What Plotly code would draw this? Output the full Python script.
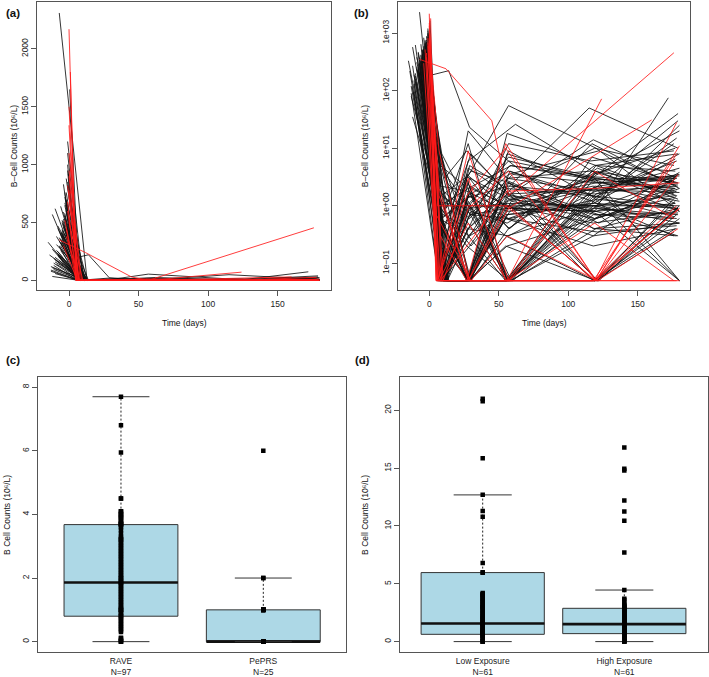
import plotly.graph_objects as go

# ---------------- Data: spaghetti panels (a) & (b) ----------------
# RAVE patients (black): days and B-cell counts (10^6/L); 0.05 = below detection
rave_days = [
    [-7, 13, 28, 56, 120, 178], [0.5, 7, 27, 55, 117, 176], [-0.5, 8, 29, 57, 119, 179],
    [-4, 6, 28, 56, 118, 180], [-10, 9, 30, 58, 120, 177], [-6, 10, 27, 56, 116, 178],
    [-12, 8, 28, 59, 121, 176], [-15, 7, 29, 55, 119, 179], [-14, 11, 28, 57, 122, 180],
    [-12, 7, 30, 56, 118, 178], [-1, 14, 29, 57, 118, 177], [-3, 10, 27, 57, 120, 180],
    [-5, 9, 28, 56, 115, 179], [-8, 8, 30, 60, 118, 176], [-2, 6, 29, 56, 121, 172],
    [-9, 10, 28, 57, 119, 180], [-6, 9, 28, 57, 117, 180], [-11, 8, 28, 56, 120, 176],
    [-4, 12, 30, 58, 121, 178], [-7, 13, 29, 57, 119, 179], [-3, 11, 27, 55, 118, 177],
    [-5, 7, 28, 59, 120, 180], [-8, 10, 27, 56, 122, 178], [-2, 6, 28, 56, 119, 179],
    [-10, 9, 29, 58, 118, 180], [-1, 8, 28, 55, 120, 177], [-6, 11, 30, 57, 116, 176],
    [-9, 14, 29, 56, 119, 179], [-3, 7, 28, 62, 121, 180], [-4, 9, 27, 57, 118, 178],
    [-13, 12, 28, 56, 120, 180], [-2, 8, 29, 58, 117, 176], [-7, 6, 28, 55, 119, 179],
    [-5, 10, 30, 56, 121, 177], [-8, 13, 27, 57, 118, 180], [-1, 7, 28, 56, 120, 178],
    [-11, 9, 29, 59, 119, 176], [-6, 11, 28, 56, 122, 180], [-3, 8, 27, 58, 117, 179],
    [-9, 12, 28, 55, 120, 178], [-4, 6, 30, 57, 119, 177], [-7, 10, 28, 56, 118, 180],
    [-2, 9, 29, 60, 121, 176], [-10, 7, 27, 56, 120, 179], [-5, 13, 28, 57, 119, 180],
    [-12, 8, 29, 55, 118, 178], [-1, 10, 28, 58, 120, 177], [-6, 7, 30, 56, 122, 180],
    [-8, 12, 27, 57, 117, 179], [-3, 9, 28, 59, 119, 176], [-9, 11, 29, 56, 121, 178],
    [-4, 8, 28, 57, 120, 180], [-7, 6, 27, 55, 118, 177], [-2, 14, 28, 56, 119, 179],
    [-11, 9, 30, 58, 117, 180], [-5, 10, 28, 56, 120, 176], [-13, 7, 27, 57, 121, 178],
    [-3, 12, 29, 55, 118, 179], [-8, 8, 28, 56, 119, 177], [-6, 11, 28, 58, 120, 180],
    [-1, 6, 29, 56, 116, 178], [-10, 13, 27, 57, 122, 176], [-4, 9, 28, 55, 119, 180],
    [-7, 10, 30, 57, 121, 179], [-2, 7, 28, 56, 118, 150], [-12, 12, 29, 59, 120, 178],
    [-5, 8, 28, 57, 119, 179], [-9, 10, 29, 56, 120, 177], [-3, 7, 27, 58, 118, 180],
    [-7, 12, 28, 55, 121, 178], [-1, 9, 30, 57, 117, 176], [-11, 6, 28, 56, 120, 179],
    [-4, 11, 29, 59, 119, 180], [-6, 8, 27, 56, 118, 177], [-2, 13, 28, 57, 122, 178],
    [-8, 9, 29, 55, 120, 176], [-13, 7, 28, 56, 119, 180], [-5, 10, 30, 58, 121, 179],
    [-3, 6, 28, 57, 118, 177], [-10, 12, 27, 56, 120, 178], [-6, 8, 29, 55, 119, 180],
    [-1, 11, 28, 57, 117, 176],
]
rave_vals = [
    [2310, 0.05, 0.3, 1.2, 2.5, 3.0], [1650, 0.8, 0.05, 2.0, 1.5, 1.0], [920, 0.05, 3.0, 0.4, 5.0, 8.0],
    [830, 2.0, 0.5, 0.05, 1.0, 0.5], [620, 0.3, 8.0, 1.5, 0.8, 2.0], [640, 0.05, 0.05, 3.0, 4.0, 2.5],
    [570, 1.0, 2.0, 5.0, 3.0, 1.8], [330, 0.6, 0.3, 0.7, 1.1, 0.9], [220, 0.05, 1.5, 0.6, 2.2, 3.5],
    [35, 1.0, 0.2, 1.0, 0.5, 0.8], [180, 222, 23, 6.0, 3.0, 2.0], [400, 0.05, 3.0, 55, 10, 0.8],
    [500, 0.05, 0.4, 2.0, 50, 10], [450, 0.2, 0.05, 0.05, 0.7, 0.6], [700, 1.2, 0.9, 1.1, 1.0, 75],
    [380, 4.0, 1.0, 0.05, 3.0, 0.05], [260, 0.05, 1.5, 4.0, 1.5, 0.05], [150, 0.05, 0.05, 0.05, 1.3, 12],
    [480, 0.9, 4.0, 2.5, 0.05, 1.5], [290, 0.05, 0.05, 0.9, 2.0, 30], [560, 3.0, 9.0, 1.8, 0.05, 0.4],
    [350, 1.0, 1.0, 1.0, 1.0, 1.0], [230, 0.4, 0.05, 8.0, 2.5, 3.2], [600, 0.05, 20, 3.0, 1.8, 2.2],
    [180, 0.1, 1.0, 0.05, 0.3, 0.5], [820, 5.0, 2.0, 0.05, 5.0, 4.0], [420, 0.05, 0.5, 12, 6.0, 9.0],
    [310, 1.8, 0.05, 0.3, 0.9, 0.7], [540, 0.05, 6.0, 26, 3.5, 20], [280, 0.6, 0.05, 1.5, 14, 3.0],
    [120, 0.05, 0.05, 0.05, 0.6, 2.0], [760, 9.0, 0.05, 4.0, 1.2, 0.3], [200, 0.3, 2.5, 0.05, 0.05, 0.9],
    [390, 0.05, 0.8, 0.5, 4.0, 1.1], [470, 2.5, 1.0, 6.0, 0.4, 0.5], [1000, 0.05, 0.05, 0.2, 0.6, 1.8],
    [95, 0.05, 0.2, 2.0, 10, 5.0], [330, 0.8, 12, 0.05, 0.05, 1.0], [650, 0.05, 0.05, 0.8, 3.0, 40],
    [240, 4.0, 0.3, 0.05, 1.6, 6.0], [510, 0.05, 2.0, 1.0, 0.05, 1.2], [170, 0.05, 0.05, 0.05, 0.9, 25],
    [880, 1.5, 0.6, 3.5, 2.5, 2.0], [60, 0.05, 3.5, 0.9, 0.8, 0.3], [440, 0.05, 0.05, 9.0, 1.4, 8.0],
    [270, 0.2, 0.05, 0.6, 0.2, 0.4], [1200, 0.05, 1.2, 0.05, 2.0, 3.0], [360, 6.0, 0.05, 2.5, 0.7, 0.05],
    [210, 0.05, 0.9, 0.05, 7.0, 2.5], [720, 0.4, 0.05, 1.2, 0.6, 1.4], [140, 0.05, 5.0, 2.0, 0.05, 0.7],
    [590, 0.05, 0.4, 0.3, 1.8, 4.5], [300, 2.0, 0.05, 0.05, 3.5, 10], [480, 0.05, 0.05, 1.5, 0.4, 0.9],
    [190, 0.6, 1.5, 0.4, 12, 2.0], [410, 0.05, 0.05, 18, 5.0, 1.6], [80, 1.0, 0.2, 0.05, 0.9, 0.6],
    [670, 0.05, 2.2, 1.0, 0.3, 3.5], [250, 3.0, 0.05, 0.7, 1.0, 1.5], [320, 0.05, 0.6, 5.0, 2.8, 0.8],
    [950, 0.05, 0.05, 0.05, 1.2, 15], [160, 0.2, 0.05, 2.5, 0.5, 2.8], [530, 8.0, 1.0, 0.3, 0.05, 0.6],
    [370, 0.05, 0.05, 0.4, 4.5, 1.3], [610, 0.5, 0.05, 1.0, 2.2, 0.4], [110, 0.05, 1.8, 0.05, 0.4, 0.3],
    [430, 0.6, 1.4, 2.2, 1.6, 2.4], [260, 0.05, 0.7, 0.9, 0.8, 1.1], [580, 1.4, 3.2, 1.3, 2.8, 3.3],
    [340, 0.05, 0.05, 0.6, 0.35, 0.45], [1100, 0.05, 1.1, 7.0, 3.2, 2.6], [130, 0.8, 0.4, 1.6, 0.7, 0.75],
    [460, 0.05, 0.05, 0.05, 2.2, 1.2], [300, 2.2, 1.8, 0.8, 1.1, 6.5], [690, 0.05, 0.8, 3.5, 9.0, 2.2],
    [220, 0.5, 0.05, 0.2, 0.05, 0.35], [90, 0.05, 4.5, 1.6, 1.9, 1.7], [520, 1.8, 0.7, 0.6, 1.3, 0.9],
    [760, 0.05, 0.05, 1.3, 0.9, 2.9], [200, 0.3, 2.8, 0.05, 3.8, 1.5], [410, 0.05, 0.3, 2.8, 0.6, 3.8],
    [850, 0.9, 0.05, 0.05, 1.5, 0.65],
]
# PePRS patients (red)
peprs_days = [
    [0, 5, 28, 56, 120, 178], [0, 6, 27, 57, 119, 180], [-7, 12, 45, 57, 176],
    [0, 7, 28, 56, 124], [-1, 6, 28, 57, 119, 178], [0, 8, 27, 55, 120, 180],
    [-2, 5, 29, 56, 118, 177], [0, 7, 28, 58, 119, 176], [-3, 6, 27, 55, 120, 180],
    [0, 9, 28, 57, 160], [-1, 5, 30, 56, 121, 179], [0, 6, 28, 55, 118, 178],
    [-2, 8, 27, 56, 119, 180], [0, 7, 29, 57, 105], [-4, 6, 28, 55, 120, 178],
    [1, 5, 27, 56, 119, 176], [0, 10, 28, 57, 120, 179], [-1, 7, 29, 56, 118, 180],
]
peprs_vals = [
    [2170, 0.05, 0.05, 0.05, 0.05, 0.05], [1340, 1.0, 1.0, 1.0, 0.05, 0.9], [350, 240, 30, 1.5, 455],
    [900, 0.05, 0.5, 0.05, 72], [600, 0.05, 9.0, 0.05, 0.05, 28], [1100, 0.3, 0.05, 12, 0.05, 0.9],
    [450, 0.05, 0.05, 0.05, 0.05, 6.0], [780, 2.0, 0.05, 0.05, 4.0, 0.6], [520, 0.05, 1.5, 10, 0.05, 11],
    [950, 0.05, 0.05, 0.9, 31], [680, 0.7, 0.05, 0.3, 0.05, 0.4], [1500, 0.05, 3.0, 0.05, 0.05, 1.0],
    [380, 0.05, 0.2, 1.8, 2.0, 2.5], [720, 9.0, 0.05, 0.05, 2.5], [300, 0.05, 0.05, 1.0, 0.05, 8.0],
    [1800, 0.05, 0.05, 0.05, 0.5, 0.05], [500, 0.05, 0.9, 4.0, 0.05, 3.5], [820, 1.5, 0.05, 0.05, 0.05, 0.05],
]

# ---------------- Data: box panels (c) & (d) ----------------
c_labels = ["RAVE<br>N=97", "PePRS<br>N=25"]
rave_pts = [
    0.0, 0.0, 0.02, 0.05, 0.1, 0.12, 0.4, 0.45, 0.5, 0.55,
    0.6, 0.65, 0.7, 0.75, 0.8, 0.8, 0.85, 0.9, 0.95, 1.0,
    1.0, 1.05, 1.1, 1.15, 1.2, 1.25, 1.3, 1.35, 1.4, 1.45,
    1.5, 1.55, 1.6, 1.65, 1.7, 1.75, 1.8, 1.85, 1.86, 1.9,
    1.95, 2.0, 2.05, 2.1, 2.15, 2.2, 2.25, 2.3, 2.35, 2.4,
    2.45, 2.5, 2.55, 2.6, 2.65, 2.7, 2.75, 2.8, 2.85, 2.9,
    2.95, 3.0, 3.05, 3.1, 3.15, 3.2, 3.22, 3.25, 3.3, 3.4,
    3.5, 3.6, 3.65, 3.68, 3.7, 3.7, 3.72, 3.75, 3.8, 3.85,
    3.9, 3.9, 3.95, 4.0, 4.0, 4.05, 4.1, 4.1, 4.5, 4.5,
    5.95, 6.8, 7.7, 0.3, 0.35, 2.0, 1.0,
]
peprs_pts = [0] * 13 + [0.98, 1.0, 1.0, 1.0, 1.0, 1.0, 1.02, 1.0, 1.0, 2.0, 2.0, 6.0]
c_q1 = [0.8, 0.0]
c_med = [1.86, 0.0]
c_q3 = [3.68, 1.0]
c_low = [0.0, 0.0]
c_high = [7.7, 2.0]

d_labels = ["Low Exposure<br>N=61", "High Exposure<br>N=61"]
low_pts = [
    0, 0, 0, 0.3, 0.4, 0.5, 0.6, 0.63, 0.7, 0.8,
    0.9, 1.0, 1.1, 1.2, 1.3, 1.4, 1.5, 1.57, 1.6, 1.7,
    1.8, 1.9, 2.0, 2.1, 2.2, 2.3, 2.4, 2.5, 2.6, 2.7,
    2.8, 2.9, 3.0, 3.1, 3.2, 3.3, 3.4, 3.5, 3.6, 3.7,
    3.8, 3.9, 4.0, 4.1, 4.2, 5.95, 6.0, 6.8, 10.8, 11.3,
    12.7, 15.85, 20.8, 21.0, 0.2, 1.0, 1.5, 2.0, 0.8, 3.0, 4.1,
]
high_pts = [
    0, 0, 0, 0.1, 0.2, 0.3, 0.4, 0.5, 0.6, 0.69,
    0.7, 0.8, 0.9, 1.0, 1.1, 1.2, 1.3, 1.4, 1.5, 1.51,
    1.6, 1.7, 1.8, 1.9, 2.0, 2.1, 2.2, 2.3, 2.4, 2.5,
    2.6, 2.7, 2.8, 2.88, 2.9, 3.0, 3.1, 3.2, 3.3, 3.6,
    3.7, 4.46, 7.7, 10.45, 11.25, 12.2, 14.8, 14.95, 16.8,
    0.5, 1.0, 1.5, 2.0, 0.8, 1.2, 2.2, 0.3, 1.8, 2.6, 0.9, 1.4,
]
d_q1 = [0.63, 0.69]
d_med = [1.57, 1.51]
d_q3 = [5.97, 2.88]
d_low = [0.0, 0.0]
d_high = [12.69, 4.46]

# ---------------- Figure ----------------
W, H = 709, 677
FONT = "Liberation Sans, Arial, sans-serif"
TXT = "#222222"
FRAME = "#555555"


def px_x(p):
    return p / W


def px_y(p):
    return 1 - p / H


def join(days, vals):
    xs, ys = [], []
    for d, v in zip(days, vals):
        xs += list(d) + [None]
        ys += list(v) + [None]
    return xs, ys


fig = go.Figure()

bx, by = join(rave_days, rave_vals)
rx, ry = join(peprs_days, peprs_vals)
for xa, ya in (("x", "y"), ("x2", "y2")):
    fig.add_trace(go.Scatter(x=bx, y=by, mode="lines", line=dict(color="#111111", width=0.85),
                             xaxis=xa, yaxis=ya, hoverinfo="skip", showlegend=False))
    fig.add_trace(go.Scatter(x=rx, y=ry, mode="lines", line=dict(color="#ff1a1a", width=0.85),
                             xaxis=xa, yaxis=ya, hoverinfo="skip", showlegend=False))


def add_boxes(xa, ya, groups, q1, med, q3, low, high, boxw, capw):
    for i, pts in enumerate(groups):
        pos = i + 1
        fig.add_trace(go.Box(x=[pos], q1=[q1[i]], median=[med[i]], q3=[q3[i]],
                             lowerfence=[q1[i]], upperfence=[q3[i]], width=boxw,
                             fillcolor="#add8e6", line=dict(color="#333333", width=1),
                             whiskerwidth=0, boxpoints=False, xaxis=xa, yaxis=ya,
                             hoverinfo="skip", showlegend=False))
        # thick median
        fig.add_trace(go.Scatter(x=[pos - boxw / 2, pos + boxw / 2], y=[med[i], med[i]], mode="lines",
                                 line=dict(color="#111111", width=2.6), xaxis=xa, yaxis=ya,
                                 hoverinfo="skip", showlegend=False))
        # dashed whiskers
        fig.add_trace(go.Scatter(x=[pos, pos, None, pos, pos], y=[q3[i], high[i], None, q1[i], low[i]],
                                 mode="lines", line=dict(color="#222222", width=1, dash="2px,2px"),
                                 xaxis=xa, yaxis=ya, hoverinfo="skip", showlegend=False))
        # staples
        fig.add_trace(go.Scatter(x=[pos - capw / 2, pos + capw / 2, None, pos - capw / 2, pos + capw / 2],
                                 y=[high[i], high[i], None, low[i], low[i]], mode="lines",
                                 line=dict(color="#333333", width=1), xaxis=xa, yaxis=ya,
                                 hoverinfo="skip", showlegend=False))
        # points
        fig.add_trace(go.Scatter(x=[pos] * len(pts), y=pts, mode="markers",
                                 marker=dict(symbol="square", size=4.5, color="#000000"),
                                 xaxis=xa, yaxis=ya, hoverinfo="skip", showlegend=False))


add_boxes("x3", "y3", [rave_pts, peprs_pts], c_q1, c_med, c_q3, c_low, c_high, 0.8, 0.4)
add_boxes("x4", "y4", [low_pts, high_pts], d_q1, d_med, d_q3, d_low, d_high, 0.87, 0.41)

axis_common = dict(showline=True, mirror=True, linecolor=FRAME, linewidth=1, showgrid=False,
                   zeroline=False, ticks="outside", ticklen=5, tickcolor=FRAME, tickwidth=1,
                   tickfont=dict(family=FONT, size=8.5, color=TXT))
cat_axis = {**axis_common, "ticks": "", "ticklen": 0}

dom_a = [px_x(37), px_x(331)]
dom_b = [px_x(398), px_x(690)]
dom_c = [px_x(38), px_x(345.7)]
dom_d = [px_x(400), px_x(708.3)]
dom_top = [px_y(293), px_y(2)]
dom_bot = [px_y(658.3), px_y(380.7)]

fig.update_layout(
    width=W, height=H, autosize=False,
    margin=dict(l=0, r=0, t=0, b=0),
    paper_bgcolor="white", plot_bgcolor="white",
    showlegend=False,
    font=dict(family=FONT, size=8.5, color=TXT),
    xaxis=dict(domain=dom_a, anchor="y", range=[-23, 188.3], tickvals=[0, 50, 100, 150], **axis_common),
    yaxis=dict(domain=dom_top, anchor="x", range=[-85.6, 2405], tickvals=[0, 500, 1000, 1500, 2000],
               tickangle=-90, **axis_common),
    xaxis2=dict(domain=dom_b, anchor="y2", range=[-22.5, 187.6], tickvals=[0, 50, 100, 150], **axis_common),
    yaxis2=dict(domain=dom_top, anchor="x2", type="log", range=[-1.47, 3.54],
                tickvals=[0.1, 1, 10, 100, 1000],
                ticktext=["1e\u221201", "1e+00", "1e+01", "1e+02", "1e+03"],
                tickangle=-90, **axis_common),
    xaxis3=dict(domain=dom_c, anchor="y3", range=[0.417, 2.579], tickvals=[1, 2], ticktext=c_labels,
                **cat_axis),
    yaxis3=dict(domain=dom_bot, anchor="x3", range=[-0.34, 8.31], tickvals=[0, 2, 4, 6, 8],
                tickangle=-90, **axis_common),
    xaxis4=dict(domain=dom_d, anchor="y4", range=[0.416, 2.593], tickvals=[1, 2], ticktext=d_labels,
                **cat_axis),
    yaxis4=dict(domain=dom_bot, anchor="x4", range=[-0.94, 22.86], tickvals=[0, 5, 10, 15, 20],
                tickangle=-90, **axis_common),
)

ann = []


def add_text(x, y, text, size=8.5, angle=0, bold=False):
    ann.append(dict(x=px_x(x), y=px_y(y), xref="paper", yref="paper", text=f"<b>{text}</b>" if bold else text,
                    showarrow=False, textangle=angle, xanchor="center", yanchor="middle",
                    font=dict(family=FONT, size=size, color="#111111")))


add_text(13, 13, "(a)", size=11.5, bold=True)
add_text(361, 13, "(b)", size=11.5, bold=True)
add_text(13, 363, "(c)", size=11.5, bold=True)
add_text(362, 363, "(d)", size=11.5, bold=True)
add_text(184, 326, "Time (days)")
add_text(544, 326, "Time (days)")
add_text(14, 147.5, "B\u2013Cell Counts (10\u2076/L)", angle=-90)
add_text(365, 147.5, "B\u2013Cell Counts (10\u2076/L)", angle=-90)
add_text(7, 519.5, "B Cell Counts (10\u2076/L)", angle=-90)
add_text(365, 519.5, "B Cell Counts (10\u2076/L)", angle=-90)
fig.update_layout(annotations=ann)

fig.write_html("out.html", config={"displayModeBar": False},
               post_script="document.body.style.margin='0';document.body.style.overflow='hidden';")
